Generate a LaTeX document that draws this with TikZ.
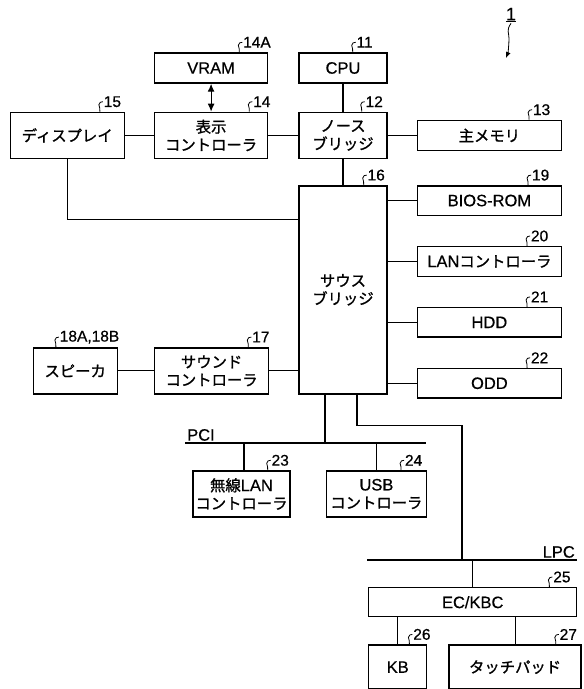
\documentclass[tikz,border=0pt]{standalone}
\usepackage{fontspec}
\setmainfont{Liberation Sans}[FakeBold=0.6]
\newfontfamily\jp{Noto Sans CJK JP}[Scale=0.93, FakeBold=1.2]
\usetikzlibrary{arrows,arrows.meta,positioning,calc}

\newcommand{\boxsize}{\fontsize{16.5}{18}\selectfont}
\newcommand{\numsize}{\fontsize{15.5}{17}\selectfont}
\newcommand{\lat}[1]{{\rmfamily #1}}
\newcommand{\refnum}[3]{%
  \draw[line width=0.8pt] ([xshift=#2]#1.north east)
    .. controls +(1.5pt,3pt) and +(-0.5pt,-3pt) .. ++(-1pt,7pt)
    .. controls +(0.5pt,2.5pt) and +(-2pt,0pt) .. ++(4pt,3pt)
    node[anchor=west, inner sep=0.5pt, font=\numsize] {#3};}

\begin{document}
\begin{tikzpicture}[
    font=\boxsize,
    box/.style={draw, line width=1.4pt, align=center, inner sep=1pt, minimum height=30pt},
    tall/.style={box, minimum height=46pt},
    side/.style={box, minimum width=144pt, minimum height=29.5pt},
    kana/.style={font=\boxsize\jp},
    link/.style={line width=1.2pt},
    bus/.style={line width=2.8pt},
    arr/.style={<->, >={Latex[length=8pt,width=7pt]}, line width=1.2pt},
  ]
    \useasboundingbox (0,0) rectangle (584pt,-689pt);

    \node[box, minimum width=88pt] (cpu) at (343pt,-68pt) {CPU};
    \node[tall, kana, minimum width=88pt, below=28pt of cpu] (nb) {ノース\\ブリッジ};
    \node[box, minimum width=113pt, left=30pt of cpu] (vram) {VRAM};
    \node[tall, kana, minimum width=113pt, below=28pt of vram] (disc) {表示\\コントローラ};
    \node[tall, kana, minimum width=114pt, left=29pt of disc] (disp) {ディスプレイ};
    \node[box, kana, minimum width=144pt, right=29pt of nb] (mem) {主メモリ};
    \node[box, kana, minimum width=88pt, minimum height=208pt, below=26pt of nb] (sb) {サウス\\ブリッジ};

    \node[side, anchor=north west] (bios) at ([xshift=29pt]sb.north east) {BIOS-ROM};
    \node[side, kana, below=30pt of bios] (lan) {\lat{LAN}コントローラ};
    \node[side, below=30pt of lan] (hdd) {HDD};
    \node[side, below=30pt of hdd] (odd) {ODD};

    \node[tall, kana, minimum width=114pt, anchor=south east] (snd) at ([xshift=-29pt]sb.south west) {サウンド\\コントローラ};
    \node[tall, kana, minimum width=84pt, left=36pt of snd] (spk) {スピーカ};

    \coordinate (pcia) at (185pt,-443pt);
    \coordinate (pcib) at (426pt,-443pt);
    \node[anchor=south west, inner sep=2pt] (pcitxt) at (pcia) {PCI};
    \node[tall, kana, minimum width=97pt] (wlan) at (241.5pt,-494pt) {無線\lat{LAN}\\コントローラ};
    \node[tall, kana, minimum width=100pt, right=35pt of wlan] (usb) {\lat{USB}\\コントローラ};

    \coordinate (lpca) at (367pt,-560pt);
    \coordinate (lpcb) at (577pt,-560pt);
    \coordinate (lpcin) at (462pt,-560pt);
    \node[anchor=south east, inner sep=2pt] (lpctxt) at (lpcb) {LPC};
    \node[box, minimum width=208pt, minimum height=29pt, anchor=north west] (ec) at ([xshift=1pt,yshift=-27pt]lpca) {EC/KBC};
    \node[box, minimum width=58pt, minimum height=44pt, anchor=north west] (kb) at ([yshift=-27pt]ec.south west) {KB};
    \node[box, kana, minimum width=132pt, minimum height=44pt, right=21pt of kb] (tp) {タッチパッド};

    \draw[arr] (vram) -- (disc);
    \draw[link] (cpu) -- (nb);
    \draw[link] (disp) -- (disc);
    \draw[link] (disc) -- (nb);
    \draw[link] (nb) -- (mem);
    \draw[link] (nb) -- (sb);
    \draw[link] (disp.south) |- ([yshift=70pt]sb.west);
    \draw[link] (spk) -- (snd);
    \draw[link] (snd.east) -- (snd.east -| sb.west);
    \foreach \dev in {bios,lan,hdd,odd}
      \draw[link] (\dev.west) -- (\dev.west -| sb.east);

    \draw[bus] (pcia) -- (pcib);
    \draw[link] ([xshift=-18pt]sb.south) -- ([xshift=-18pt]sb.south |- pcia);
    \draw[link] ([xshift=2.5pt]wlan.north |- pcia) -- ([xshift=2.5pt]wlan.north);
    \draw[link] (usb.north |- pcia) -- (usb.north);

    \draw[bus] (lpca) -- (lpcb);
    \draw[link] ([xshift=14pt]sb.south) -- ++(0,-31pt) -| (lpcin);
    \draw[link] (ec.north |- lpca) -- (ec.north);
    \draw[link] (kb.north |- ec.south) -- (kb.north);
    \draw[link] (tp.north |- ec.south) -- (tp.north);

    \refnum{vram}{-29pt}{14A}
    \refnum{cpu}{-35pt}{11}
    \refnum{disp}{-25pt}{15}
    \refnum{disc}{-19pt}{14}
    \refnum{nb}{-26pt}{12}
    \refnum{mem}{-33pt}{13}
    \refnum{sb}{-24pt}{16}
    \refnum{bios}{-34pt}{19}
    \refnum{lan}{-35pt}{20}
    \refnum{hdd}{-35pt}{21}
    \refnum{odd}{-35pt}{22}
    \refnum{spk}{-62pt}{18A,18B}
    \refnum{snd}{-21pt}{17}
    \refnum{wlan}{-23pt}{23}
    \refnum{usb}{-26pt}{24}
    \refnum{ec}{-28pt}{25}
    \refnum{kb}{-18pt}{26}
    \refnum{tp}{-26pt}{27}

    \node[font=\fontsize{18}{20}\selectfont, inner sep=1pt] (one) at (511pt,-15pt) {\underline{1}};
    \coordinate (sysarr) at (506pt,-58pt);
    \draw[-{Latex[length=6pt,width=5pt]}, line width=0.8pt] (one.south) .. controls +(-5pt,-7pt) and +(0pt,6pt) .. ++(-2pt,-15pt)
      .. controls +(0pt,-6pt) and +(2pt,5pt) .. (sysarr);
  \end{tikzpicture}
\end{document}
